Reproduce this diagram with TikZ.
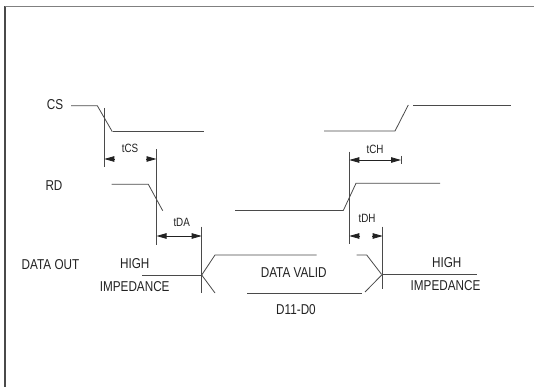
\documentclass[tikz,border=0pt]{standalone}
\usepackage{fontspec}
\setmainfont[FakeStretch=0.82]{Liberation Sans}
\usetikzlibrary{arrows.meta}
\definecolor{ln}{HTML}{4A4A4A}
\definecolor{tx}{HTML}{222222}
\begin{document}
\begin{tikzpicture}[x=1pt,y=-1pt,
  sig/.style={draw=ln,line width=0.8pt},
  tick/.style={draw=ln,line width=0.8pt},
  dim/.style={draw=tx,line width=0.8pt,-{Triangle[length=10pt,width=5.5pt]}},
  dimb/.style={draw=tx,line width=0.8pt,{Triangle[length=10pt,width=5.5pt]}-{Triangle[length=10pt,width=5.5pt]}},
  lbl/.style={text=tx,font=\fontsize{14.3}{14}\selectfont,inner sep=0pt,anchor=base},
  tlbl/.style={text=tx,font=\fontsize{12}{12}\selectfont,inner sep=0pt,anchor=base},
  frame/.style={draw=ln,line width=1.8pt}]
\useasboundingbox (0,0) rectangle (534,387);
% frame
\draw[frame] (5,387) -- (5,6.5);
\draw[draw=gray,line width=1.4pt] (5,6.5) -- (534,6.5);
% labels
\node[lbl] (cs) at (55,110) {CS};
\node[lbl] (rd) at (54,190) {RD};
\node[lbl] (dout) at (50.5,269) {DATA OUT};
\node[lbl] (hi1) at (134.7,268.3) {HIGH};
\node[lbl] (imp1) at (134.7,291.5) {IMPEDANCE};
\node[lbl] (dv) at (293.7,277.3) {DATA VALID};
\node[lbl] (dd) at (296,314) {D11-D0};
\node[lbl] (hi2) at (446.7,267.3) {HIGH};
\node[lbl] (imp2) at (445.5,290.7) {IMPEDANCE};
\node[tlbl] (tcs) at (130,152.7) {tCS};
\node[tlbl] (tda) at (181.7,226.7) {tDA};
\node[tlbl] (tch) at (375,154) {tCH};
\node[tlbl] (tdh) at (367,222.7) {tDH};
% CS signal
\draw[sig] (71,105.7) -- (97.3,105.7) -- (112.3,131.7);
\draw[sig] (113.3,131.7) -- (204,131.7);
\draw[sig] (324,131) -- (395,131) -- (408.3,105);
\draw[sig] (413,105) -- (510.7,105);
% RD signal
\draw[sig] (111.7,184.3) -- (148.3,184.3) -- (162.7,210.7);
\draw[sig] (235,210.5) -- (343.3,210.5) -- (356,183.3) -- (440,183.3);
% DATA OUT
\draw[sig] (142,275) -- (201.7,275);
\draw[sig] (201.7,275) -- (215,255) -- (316.7,255);
\draw[sig] (356.7,255) -- (366.7,255) -- (381.7,274.5);
\draw[sig] (201.7,275) -- (215,293);
\draw[sig] (247,293) -- (362,293);
\draw[sig] (365,292) -- (381.7,275);
\draw[sig] (382.7,274.5) -- (476.7,274.5);
% reference ticks
\coordinate (a1) at (104.3,108);
\coordinate (a2) at (104.3,167);
\coordinate (b1) at (156.5,149.3);
\coordinate (b2) at (156.5,245);
\coordinate (c1) at (201.7,226.7);
\coordinate (c2) at (201.7,292.7);
\coordinate (d1) at (349.3,151.7);
\coordinate (d2) at (349.3,244);
\coordinate (e1) at (382.7,226.7);
\coordinate (e2) at (382.7,289.3);
\coordinate (f1) at (401,156);
\coordinate (f2) at (401,164);
\draw[tick] (a1) -- (a2);
\draw[tick] (b1) -- (b2);
\draw[tick] (c1) -- (c2);
\draw[tick] (d1) -- (d2);
\draw[tick] (e1) -- (e2);
\draw[tick] (f1) -- (f2);
% dimension arrows
\coordinate (tcsl) at (104.3,159);
\coordinate (tcsls) at (114,159);
\coordinate (tcsr) at (156.5,159);
\coordinate (tcsrs) at (146,159);
\draw[dim] (tcsls) -- (tcsl);
\draw[dim] (tcsrs) -- (tcsr);
\coordinate (tdal) at (156.5,236);
\coordinate (tdar) at (201.7,236);
\draw[dimb] (tdal) -- (tdar);
\coordinate (tchl) at (349.3,160);
\coordinate (tchr) at (401,160);
\draw[dimb] (tchl) -- (tchr);
\coordinate (tdhl) at (349.3,236);
\coordinate (tdhls) at (360,236);
\coordinate (tdhr) at (382.7,236);
\coordinate (tdhrs) at (372,236);
\draw[dim] (tdhls) -- (tdhl);
\draw[dim] (tdhrs) -- (tdhr);
\end{tikzpicture}
\end{document}
